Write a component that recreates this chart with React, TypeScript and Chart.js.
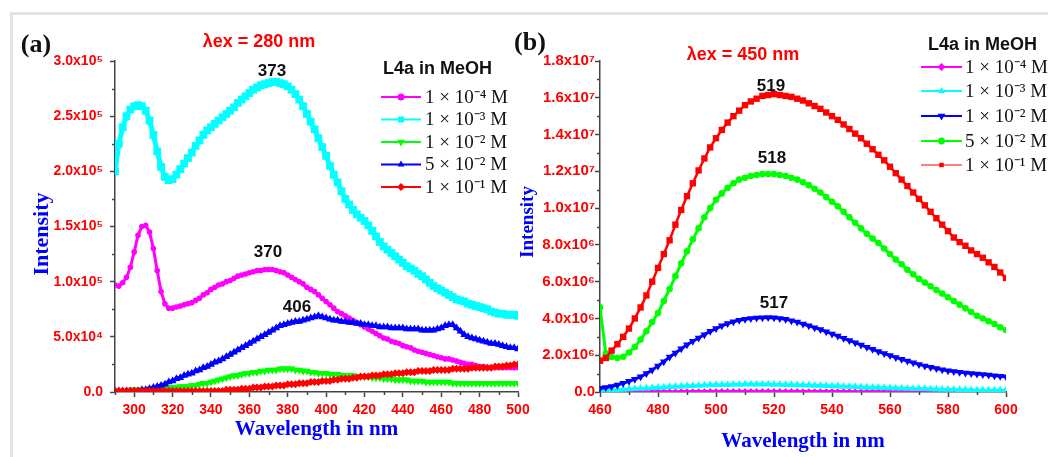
import React, { useEffect, useRef } from "react";
import { Chart, registerables } from "chart.js";

Chart.register(...registerables);

const SERIF = "'Liberation Serif', 'Times New Roman', serif";
const SANS = "'Liberation Sans', Arial, Helvetica, sans-serif";
const AXIS = "#444444";

// ---------- Panel (a): excitation 280 nm, intensity in units of 1e5 ----------
// sampling grid of the spectra (nm)
const wavelengthA: number[] = Array.from({ length: 106 }, (_, i) => 290 + 2 * i);

const a1e4 = [
  0.97, 0.96, 0.99, 1.04, 1.13, 1.27, 1.42, 1.5, 1.51, 1.45,
  1.3, 1.1, 0.91, 0.8, 0.76, 0.76, 0.77, 0.78, 0.79, 0.8,
  0.81, 0.83, 0.85, 0.88, 0.9, 0.93, 0.95, 0.97, 0.98, 1.0,
  1.01, 1.03, 1.05, 1.06, 1.07, 1.08, 1.09, 1.1, 1.1, 1.11,
  1.11, 1.11, 1.1, 1.09, 1.08, 1.06, 1.04, 1.02, 1.0, 0.98,
  0.95, 0.93, 0.91, 0.88, 0.85, 0.82, 0.79, 0.76, 0.73, 0.71,
  0.69, 0.67, 0.65, 0.63, 0.61, 0.59, 0.57, 0.55, 0.53, 0.51,
  0.49, 0.48, 0.46, 0.45, 0.44, 0.42, 0.41, 0.4, 0.38, 0.37,
  0.36, 0.35, 0.34, 0.33, 0.32, 0.31, 0.3, 0.3, 0.29, 0.28,
  0.27, 0.26, 0.25, 0.25, 0.24, 0.23, 0.23, 0.22, 0.22, 0.22,
  0.22, 0.22, 0.22, 0.22, 0.22, 0.22,
];
const a1e3 = [
  2.0, 2.25, 2.4, 2.5, 2.56, 2.59, 2.6, 2.59, 2.55, 2.46,
  2.33, 2.18, 2.04, 1.95, 1.92, 1.93, 1.97, 2.02, 2.07, 2.12,
  2.17, 2.23, 2.28, 2.33, 2.37, 2.4, 2.43, 2.46, 2.49, 2.52,
  2.55, 2.58, 2.62, 2.65, 2.68, 2.71, 2.74, 2.76, 2.78, 2.79,
  2.8, 2.81, 2.81, 2.8, 2.79, 2.77, 2.74, 2.7, 2.65, 2.59,
  2.52, 2.45, 2.38, 2.3, 2.22, 2.14, 2.05, 1.97, 1.9, 1.82,
  1.75, 1.7, 1.65, 1.61, 1.58, 1.55, 1.51, 1.46, 1.41, 1.36,
  1.32, 1.29, 1.26, 1.23, 1.2, 1.17, 1.14, 1.12, 1.1, 1.07,
  1.05, 1.02, 0.99, 0.96, 0.94, 0.92, 0.9, 0.88, 0.86, 0.84,
  0.83, 0.82, 0.8, 0.79, 0.78, 0.77, 0.76, 0.75, 0.73, 0.72,
  0.71, 0.71, 0.7, 0.7, 0.7, 0.69,
];
const a1e2 = [
  0.01, 0.01, 0.01, 0.01, 0.02, 0.02, 0.02, 0.02, 0.02, 0.03,
  0.03, 0.03, 0.03, 0.04, 0.04, 0.04, 0.04, 0.05, 0.05, 0.05,
  0.06, 0.06, 0.07, 0.08, 0.08, 0.09, 0.1, 0.11, 0.12, 0.13,
  0.14, 0.15, 0.15, 0.16, 0.17, 0.17, 0.18, 0.18, 0.19, 0.19,
  0.2, 0.2, 0.2, 0.21, 0.21, 0.21, 0.21, 0.2, 0.2, 0.19,
  0.19, 0.18, 0.18, 0.17, 0.17, 0.17, 0.16, 0.16, 0.16, 0.15,
  0.15, 0.15, 0.15, 0.14, 0.14, 0.14, 0.14, 0.13, 0.13, 0.13,
  0.12, 0.12, 0.12, 0.11, 0.11, 0.11, 0.11, 0.1, 0.1, 0.1,
  0.1, 0.09, 0.09, 0.09, 0.09, 0.09, 0.09, 0.09, 0.08, 0.08,
  0.08, 0.08, 0.08, 0.08, 0.08, 0.08, 0.08, 0.08, 0.08, 0.08,
  0.08, 0.08, 0.08, 0.08, 0.08, 0.08,
];
const a5e2 = [
  0.01, 0.01, 0.01, 0.01, 0.01, 0.01, 0.01, 0.02, 0.02, 0.03,
  0.04, 0.05, 0.06, 0.07, 0.09, 0.1, 0.12, 0.13, 0.15, 0.16,
  0.17, 0.19, 0.2, 0.22, 0.23, 0.25, 0.27, 0.28, 0.3, 0.32,
  0.34, 0.36, 0.38, 0.4, 0.42, 0.44, 0.46, 0.48, 0.5, 0.52,
  0.54, 0.56, 0.58, 0.6, 0.61, 0.62, 0.63, 0.64, 0.64, 0.65,
  0.66, 0.67, 0.68, 0.69, 0.68, 0.67, 0.66, 0.65, 0.65, 0.64,
  0.64, 0.63, 0.63, 0.62, 0.62, 0.61, 0.61, 0.6, 0.6, 0.59,
  0.59, 0.59, 0.58, 0.58, 0.58, 0.58, 0.57, 0.57, 0.57, 0.57,
  0.56, 0.56, 0.56, 0.56, 0.57, 0.58, 0.6, 0.61, 0.61, 0.58,
  0.55, 0.52, 0.5, 0.49, 0.48, 0.47, 0.46, 0.45, 0.44, 0.44,
  0.43, 0.42, 0.41, 0.4, 0.4, 0.39,
];
const a1e1 = [
  0.01, 0.01, 0.01, 0.01, 0.01, 0.01, 0.01, 0.01, 0.01, 0.01,
  0.01, 0.01, 0.01, 0.01, 0.01, 0.01, 0.01, 0.01, 0.01, 0.01,
  0.01, 0.01, 0.01, 0.01, 0.01, 0.01, 0.01, 0.01, 0.01, 0.02,
  0.02, 0.02, 0.02, 0.03, 0.03, 0.03, 0.04, 0.04, 0.04, 0.05,
  0.05, 0.05, 0.06, 0.06, 0.06, 0.07, 0.07, 0.07, 0.08, 0.08,
  0.08, 0.09, 0.09, 0.09, 0.1, 0.1, 0.1, 0.11, 0.11, 0.12,
  0.12, 0.12, 0.13, 0.13, 0.14, 0.14, 0.14, 0.15, 0.15, 0.15,
  0.16, 0.16, 0.16, 0.17, 0.17, 0.17, 0.18, 0.18, 0.18, 0.19,
  0.19, 0.19, 0.19, 0.2, 0.2, 0.2, 0.2, 0.2, 0.21, 0.21,
  0.21, 0.21, 0.21, 0.22, 0.22, 0.22, 0.22, 0.22, 0.22, 0.23,
  0.23, 0.23, 0.24, 0.24, 0.25, 0.25,
];

// ---------- Panel (b): excitation 450 nm, intensity in units of 1e6 ----------
const wavelengthB: number[] = Array.from({ length: 71 }, (_, i) => 460 + 2 * i);

const b1e4 = [
  0.03, 0.03, 0.03, 0.03, 0.03, 0.03, 0.03, 0.03, 0.03, 0.04,
  0.04, 0.04, 0.04, 0.04, 0.05, 0.05, 0.05, 0.05, 0.05, 0.06,
  0.06, 0.06, 0.06, 0.06, 0.06, 0.06, 0.06, 0.06, 0.06, 0.06,
  0.06, 0.06, 0.06, 0.06, 0.06, 0.05, 0.05, 0.05, 0.05, 0.05,
  0.05, 0.05, 0.05, 0.05, 0.04, 0.04, 0.04, 0.04, 0.04, 0.04,
  0.04, 0.04, 0.04, 0.04, 0.03, 0.03, 0.03, 0.03, 0.03, 0.03,
  0.03, 0.03, 0.03, 0.03, 0.03, 0.03, 0.03, 0.03, 0.03, 0.03,
  0.03,
];
const b1e3 = [
  0.08, 0.09, 0.1, 0.12, 0.14, 0.16, 0.18, 0.19, 0.21, 0.23,
  0.25, 0.26, 0.28, 0.3, 0.31, 0.33, 0.34, 0.35, 0.37, 0.38,
  0.39, 0.39, 0.4, 0.41, 0.41, 0.42, 0.42, 0.42, 0.42, 0.42,
  0.41, 0.41, 0.4, 0.39, 0.38, 0.38, 0.37, 0.36, 0.35, 0.34,
  0.33, 0.32, 0.3, 0.3, 0.29, 0.27, 0.26, 0.25, 0.24, 0.23,
  0.22, 0.21, 0.2, 0.19, 0.18, 0.18, 0.17, 0.16, 0.15, 0.14,
  0.14, 0.13, 0.12, 0.12, 0.11, 0.1, 0.1, 0.1, 0.09, 0.09,
  0.09,
];
const b1e2 = [
  0.2, 0.25, 0.3, 0.38, 0.48, 0.58, 0.7, 0.83, 1.0, 1.2,
  1.42, 1.65, 1.9, 2.12, 2.35, 2.57, 2.76, 2.94, 3.12, 3.3,
  3.45, 3.6, 3.72, 3.82, 3.9, 3.96, 4.0, 4.02, 4.04, 4.05,
  4.04, 4.0, 3.95, 3.88, 3.8, 3.7, 3.6, 3.5, 3.4, 3.28,
  3.16, 3.04, 2.92, 2.8, 2.68, 2.56, 2.44, 2.32, 2.2, 2.09,
  1.98, 1.88, 1.78, 1.68, 1.59, 1.5, 1.42, 1.35, 1.28, 1.21,
  1.16, 1.11, 1.07, 1.04, 1.01, 0.98, 0.95, 0.92, 0.89, 0.86,
  0.83,
];
const b5e2 = [
  4.6, 2.1, 1.9, 1.85, 1.92, 2.15, 2.45, 2.85, 3.3, 3.8,
  4.3, 4.95, 5.6, 6.3, 7.0, 7.65, 8.3, 8.9, 9.5, 10.0,
  10.45, 10.8, 11.1, 11.35, 11.55, 11.65, 11.75, 11.8, 11.85, 11.85,
  11.85, 11.8, 11.75, 11.65, 11.55, 11.4, 11.25, 11.05, 10.85, 10.6,
  10.35, 10.1, 9.8, 9.5, 9.2, 8.9, 8.6, 8.35, 8.1, 7.8,
  7.5, 7.2, 6.95, 6.65, 6.4, 6.15, 5.95, 5.75, 5.55, 5.35,
  5.15, 4.95, 4.75, 4.55, 4.35, 4.15, 4.0, 3.85, 3.7, 3.52,
  3.37,
];
const b1e1 = [
  1.7, 1.85, 2.25, 2.6, 3.0, 3.45, 4.0, 4.6, 5.25, 6.0,
  6.75, 7.5, 8.25, 9.1, 9.9, 10.65, 11.35, 12.05, 12.7, 13.3,
  13.8, 14.25, 14.65, 15.0, 15.3, 15.6, 15.8, 15.95, 16.1, 16.15,
  16.2, 16.15, 16.1, 16.05, 15.95, 15.85, 15.7, 15.55, 15.4, 15.2,
  15.0, 14.8, 14.55, 14.3, 14.05, 13.8, 13.5, 13.2, 12.9, 12.6,
  12.25, 11.9, 11.55, 11.2, 10.85, 10.5, 10.15, 9.8, 9.45, 9.1,
  8.75, 8.4, 8.15, 7.95, 7.7, 7.5, 7.3, 7.05, 6.8, 6.5,
  6.2,
];

// ---------- labels and ticks ----------
const concLabels = ["1 × 10⁻⁴ M", "1 × 10⁻³ M", "1 × 10⁻² M", "5 × 10⁻² M", "1 × 10⁻¹ M"];

const xTicksA = [300, 320, 340, 360, 380, 400, 420, 440, 460, 480, 500];
const xMinorA = [290, 310, 330, 350, 370, 390, 410, 430, 450, 470, 490];
const yTicksA = [0, 0.5, 1, 1.5, 2, 2.5, 3];
const yTickLabelsA = ["0.0", "5.0x10⁴", "1.0x10⁵", "1.5x10⁵", "2.0x10⁵", "2.5x10⁵", "3.0x10⁵"];
const yMinorA = [0.25, 0.75, 1.25, 1.75, 2.25, 2.75];

const xTicksB = [460, 480, 500, 520, 540, 560, 580, 600];
const xMinorB = [470, 490, 510, 530, 550, 570, 590];
const yTicksB = [0, 2, 4, 6, 8, 10, 12, 14, 16, 18];
const yTickLabelsB = ["0.0", "2.0x10⁶", "4.0x10⁶", "6.0x10⁶", "8.0x10⁶", "1.0x10⁷", "1.2x10⁷", "1.4x10⁷", "1.6x10⁷", "1.8x10⁷"];
const yMinorB = [1, 3, 5, 7, 9, 11, 13, 15, 17];

type Series = {
  label: string;
  values: number[];
  color: string;
  marker: string;
  rotation: number;
  radius: number;
  width: number;
  legendWidth: number;
  legendRadius: number;
};

const seriesA: Series[] = [
  { label: concLabels[0], values: a1e4, color: "#ff00ff", marker: "circle", rotation: 0, radius: 2.8, width: 3, legendWidth: 2, legendRadius: 3.5 },
  { label: concLabels[1], values: a1e3, color: "#00ffff", marker: "rect", rotation: 0, radius: 5.5, width: 5, legendWidth: 2, legendRadius: 4 },
  { label: concLabels[2], values: a1e2, color: "#00ff00", marker: "triangle", rotation: 180, radius: 4.5, width: 4, legendWidth: 2, legendRadius: 4.5 },
  { label: concLabels[3], values: a5e2, color: "#0000ff", marker: "triangle", rotation: 0, radius: 4.5, width: 4, legendWidth: 2, legendRadius: 4 },
  { label: concLabels[4], values: a1e1, color: "#ff0000", marker: "rectRot", rotation: 0, radius: 4, width: 4, legendWidth: 2, legendRadius: 4 },
];

const seriesB: Series[] = [
  { label: concLabels[0], values: b1e4, color: "#ff00ff", marker: "rectRot", rotation: 0, radius: 2.8, width: 2, legendWidth: 2, legendRadius: 4 },
  { label: concLabels[1], values: b1e3, color: "#00ffff", marker: "triangle", rotation: 0, radius: 4.5, width: 3, legendWidth: 2, legendRadius: 4 },
  { label: concLabels[2], values: b1e2, color: "#0000ff", marker: "triangle", rotation: 180, radius: 4.5, width: 3, legendWidth: 2, legendRadius: 4.5 },
  { label: concLabels[3], values: b5e2, color: "#00ff00", marker: "circle", rotation: 0, radius: 3.3, width: 3, legendWidth: 2, legendRadius: 3.5 },
  { label: concLabels[4], values: b1e1, color: "#ff0000", marker: "rect", rotation: 0, radius: 4.5, width: 2.5, legendWidth: 1, legendRadius: 3 },
];

// ---------- helpers ----------
function buildDatasets(xs: number[], series: Series[]) {
  return series.map((s, i) => ({
    label: s.label,
    data: xs.map((x, j) => ({ x, y: s.values[j] })),
    borderColor: s.color,
    backgroundColor: s.color,
    pointBackgroundColor: s.color,
    pointBorderColor: s.color,
    pointBorderWidth: 0,
    pointStyle: s.marker,
    pointRotation: s.rotation,
    pointRadius: s.radius,
    pointHoverRadius: s.radius,
    borderWidth: s.width,
    tension: 0,
    fill: false,
    order: series.length - i,
  }));
}

function axisX(min: number, max: number, major: number[], titlePad: number) {
  return {
    type: "linear",
    min,
    max,
    afterBuildTicks: (s: any) => {
      s.ticks = major.map((v) => ({ value: v }));
    },
    afterFit: (s: any) => {
      s.height = 65;
    },
    ticks: {
      color: "#ff0000",
      font: { family: SANS, size: 14, weight: "bold" },
      padding: 5,
      autoSkip: false,
      maxRotation: 0,
      minRotation: 0,
      callback: (v: any) => String(v),
    },
    grid: { display: true, drawOnChartArea: false, drawTicks: true, tickLength: 5, tickColor: AXIS, tickWidth: 1.5 },
    border: { display: true, color: AXIS, width: 1.5 },
    title: {
      display: true,
      text: "Wavelength in nm",
      color: "#0000ff",
      font: { family: SERIF, size: 21, weight: "bold" },
      padding: { top: 0, bottom: titlePad },
    },
  };
}

function axisY(max: number, major: number[], labels: string[], width: number, pad: number, size: number) {
  return {
    type: "linear",
    min: 0,
    max,
    afterBuildTicks: (s: any) => {
      s.ticks = major.map((v) => ({ value: v }));
    },
    afterFit: (s: any) => {
      s.width = width;
    },
    ticks: {
      color: "#ff0000",
      font: { family: SANS, size, weight: "bold" },
      padding: pad,
      autoSkip: false,
      callback: (_v: any, i: number) => labels[i] ?? "",
    },
    grid: { display: true, drawOnChartArea: false, drawTicks: true, tickLength: 5, tickColor: AXIS, tickWidth: 1.5 },
    border: { display: true, color: AXIS, width: 1.5 },
  };
}

function drawMarker(ctx: CanvasRenderingContext2D, style: string, rot: number, x: number, y: number, r: number) {
  ctx.beginPath();
  if (style === "circle") {
    ctx.arc(x, y, r, 0, Math.PI * 2);
  } else if (style === "rect") {
    ctx.rect(x - r * 0.75, y - r * 0.75, r * 1.5, r * 1.5);
  } else if (style === "rectRot") {
    ctx.moveTo(x, y - r);
    ctx.lineTo(x + r, y);
    ctx.lineTo(x, y + r);
    ctx.lineTo(x - r, y);
    ctx.closePath();
  } else {
    const s = rot === 180 ? -1 : 1;
    ctx.moveTo(x, y - s * r);
    ctx.lineTo(x + r * 0.87, y + s * r * 0.5);
    ctx.lineTo(x - r * 0.87, y + s * r * 0.5);
    ctx.closePath();
  }
  ctx.fill();
}

type Txt = { text: string; x: number; y: number; font: string; color: string; rotate?: boolean };
type LegendSpec = {
  title: string;
  titleX: number;
  titleY: number;
  x0: number;
  x1: number;
  textX: number;
  rows: number[];
  textFont: string;
};

function overlay(id: string, texts: Txt[], legend: LegendSpec, series: Series[], minorX: number[], minorY: number[]) {
  return {
    id,
    afterDraw(chart: any) {
      const ctx: CanvasRenderingContext2D = chart.ctx;
      const xs = chart.scales.x;
      const ys = chart.scales.y;
      ctx.save();
      // minor ticks
      ctx.strokeStyle = AXIS;
      ctx.lineWidth = 1.5;
      minorX.forEach((v) => {
        const px = Math.round(xs.getPixelForValue(v)) + 0.5;
        ctx.beginPath();
        ctx.moveTo(px, xs.top);
        ctx.lineTo(px, xs.top + 3);
        ctx.stroke();
      });
      minorY.forEach((v) => {
        const py = Math.round(ys.getPixelForValue(v)) + 0.5;
        ctx.beginPath();
        ctx.moveTo(ys.right, py);
        ctx.lineTo(ys.right - 3, py);
        ctx.stroke();
      });
      // free texts
      ctx.textAlign = "center";
      ctx.textBaseline = "middle";
      texts.forEach((t) => {
        ctx.font = t.font;
        ctx.fillStyle = t.color;
        if (t.rotate) {
          ctx.save();
          ctx.translate(t.x, t.y);
          ctx.rotate(-Math.PI / 2);
          ctx.fillText(t.text, 0, 0);
          ctx.restore();
        } else {
          ctx.fillText(t.text, t.x, t.y);
        }
      });
      // legend
      ctx.textAlign = "left";
      ctx.fillStyle = "#111";
      ctx.font = `bold 18px ${SANS}`;
      ctx.fillText(legend.title, legend.titleX, legend.titleY);
      legend.rows.forEach((y, i) => {
        const s = series[i];
        ctx.strokeStyle = s.color;
        ctx.lineWidth = s.legendWidth;
        ctx.beginPath();
        ctx.moveTo(legend.x0, y);
        ctx.lineTo(legend.x1, y);
        ctx.stroke();
        ctx.fillStyle = s.color;
        drawMarker(ctx, s.marker, s.rotation, (legend.x0 + legend.x1) / 2, y, s.legendRadius);
        ctx.fillStyle = "#111";
        ctx.font = legend.textFont;
        ctx.fillText(s.label, legend.textX, y + 1);
      });
      ctx.restore();
    },
  };
}

const textsA: Txt[] = [
  { text: "(a)", x: 36, y: 45, font: `bold 26px ${SERIF}`, color: "#111" },
  { text: "λex = 280 nm", x: 259, y: 42, font: `bold 18px ${SANS}`, color: "#ff0000" },
  { text: "373", x: 272, y: 71, font: `bold 17px ${SANS}`, color: "#111" },
  { text: "370", x: 268, y: 252, font: `bold 17px ${SANS}`, color: "#111" },
  { text: "406", x: 297, y: 307, font: `bold 17px ${SANS}`, color: "#111" },
  { text: "Intensity", x: 42, y: 234, font: `bold 22px ${SERIF}`, color: "#0000ff", rotate: true },
];

const textsB: Txt[] = [
  { text: "(b)", x: 530, y: 43, font: `bold 26px ${SERIF}`, color: "#111" },
  { text: "λex = 450 nm", x: 743, y: 55, font: `bold 18px ${SANS}`, color: "#ff0000" },
  { text: "519", x: 771, y: 86, font: `bold 17px ${SANS}`, color: "#111" },
  { text: "518", x: 772, y: 158, font: `bold 17px ${SANS}`, color: "#111" },
  { text: "517", x: 774, y: 303, font: `bold 17px ${SANS}`, color: "#111" },
  { text: "Intensity", x: 528, y: 222, font: `bold 19px ${SERIF}`, color: "#0000ff", rotate: true },
];

const legendA: LegendSpec = {
  title: "L4a in MeOH",
  titleX: 383,
  titleY: 69,
  x0: 381,
  x1: 421,
  textX: 425,
  rows: [97, 119.5, 142, 164.5, 187],
  textFont: `19px ${SERIF}`,
};

const legendB: LegendSpec = {
  title: "L4a in MeOH",
  titleX: 928,
  titleY: 45,
  x0: 921,
  x1: 962,
  textX: 965,
  rows: [67, 91, 116, 141, 165],
  textFont: `19px ${SERIF}`,
};

function makeConfig(
  xsData: number[],
  series: Series[],
  padding: any,
  x: any,
  y: any,
  plugin: any
): any {
  return {
    type: "line",
    data: { datasets: buildDatasets(xsData, series) },
    options: {
      animation: false,
      responsive: false,
      devicePixelRatio: 1,
      layout: { padding },
      plugins: { legend: { display: false }, tooltip: { enabled: false } },
      events: [],
      scales: { x, y },
    },
    plugins: [plugin],
  };
}

export default function App() {
  const refA = useRef<HTMLCanvasElement>(null);
  const refB = useRef<HTMLCanvasElement>(null);

  useEffect(() => {
    const chartA = new Chart(
      refA.current as HTMLCanvasElement,
      makeConfig(
        wavelengthA,
        seriesA,
        { left: 0, top: 61, right: 530, bottom: 0 },
        axisX(290, 500, xTicksA, 15),
        axisY(3, yTicksA, yTickLabelsA, 115, 7, 14),
        overlay("overlayA", textsA, legendA, seriesA, xMinorA, yMinorA)
      )
    );
    const chartB = new Chart(
      refB.current as HTMLCanvasElement,
      makeConfig(
        wavelengthB,
        seriesB,
        { left: 500, top: 61, right: 42, bottom: 0 },
        axisX(460, 600, xTicksB, 3),
        axisY(18, yTicksB, yTickLabelsB, 100, 0, 15),
        overlay("overlayB", textsB, legendB, seriesB, xMinorB, yMinorB)
      )
    );
    return () => {
      chartA.destroy();
      chartB.destroy();
    };
  }, []);

  return (
    <div
      style={{
        position: "fixed",
        left: 0,
        top: 0,
        width: 1048,
        height: 457,
        background: "#ffffff",
        overflow: "hidden",
      }}
    >
      <div
        style={{
          position: "absolute",
          left: 10,
          top: 12,
          width: 1100,
          height: 500,
          borderLeft: "3px solid #e3e3e3",
          borderTop: "3px solid #e3e3e3",
        }}
      />
      <canvas ref={refA} width={1048} height={457} style={{ position: "absolute", left: 0, top: 0 }} />
      <canvas ref={refB} width={1048} height={457} style={{ position: "absolute", left: 0, top: 0 }} />
    </div>
  );
}
